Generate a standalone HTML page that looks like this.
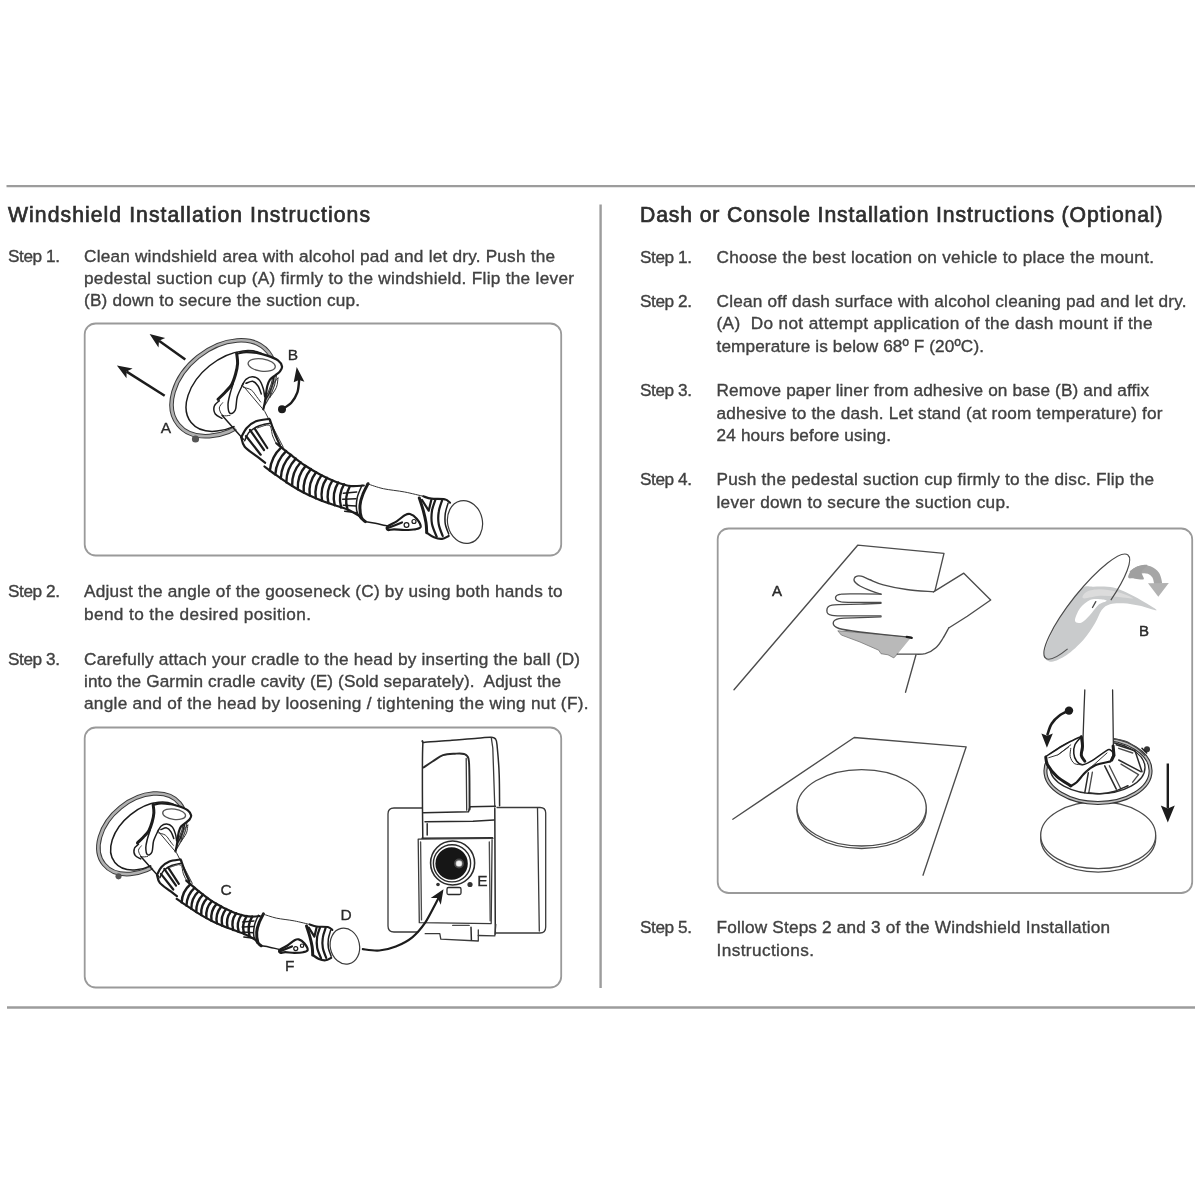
<!DOCTYPE html>
<html lang="en">
<head>
<meta charset="utf-8">
<title>Installation Instructions</title>
<style>
html,body{margin:0;padding:0;background:#fff;}
body{width:1200px;height:1200px;overflow:hidden;position:relative;font-family:"Liberation Sans",Arial,sans-serif;}
svg{position:absolute;left:0;top:0;filter:blur(0.45px);}
text{font-family:"Liberation Sans",Arial,sans-serif;fill:#414141;stroke:#414141;stroke-width:0.36px;white-space:pre;}
text.t{fill:#2e2e2e;stroke:#2e2e2e;stroke-width:0.7px;}
text.lb{fill:#2a2a2a;stroke:#2a2a2a;stroke-width:0.3px;}
text.lbb{font-size:15px;fill:#2a2a2a;stroke:#2a2a2a;stroke-width:0.45px;}
.rule{fill:none;stroke:#9c9c9c;stroke-width:2.4;}
.box{fill:none;stroke:#9a9a9a;stroke-width:1.8;}
.k{fill:none;stroke:#1c1c1c;stroke-width:1.5;stroke-linecap:round;stroke-linejoin:round;}
.k2{fill:none;stroke:#1c1c1c;stroke-width:2.2;stroke-linecap:round;stroke-linejoin:round;}
.kt{fill:none;stroke:#333;stroke-width:1;stroke-linecap:round;stroke-linejoin:round;}
.w{fill:#fff;stroke:#1c1c1c;stroke-width:1.5;stroke-linecap:round;stroke-linejoin:round;}
.wt{fill:#fff;stroke:#333;stroke-width:1;stroke-linecap:round;stroke-linejoin:round;}
.f{fill:#1c1c1c;stroke:none;}
#art2 g path,#art2 g ellipse,#art2 g circle{vector-effect:non-scaling-stroke;}
.k3{fill:none;stroke:#1c1c1c;stroke-width:3;stroke-linecap:round;stroke-linejoin:round;}
.wn{fill:#fff;stroke:none;}
.g1{fill:none;stroke:#4c4c4c;stroke-width:1.35;stroke-linecap:round;stroke-linejoin:round;}
.g1d{fill:none;stroke:#3a3a3a;stroke-width:1.3;stroke-linecap:round;stroke-linejoin:round;}
.g2{fill:none;stroke:#2a2a2a;stroke-width:1.5;stroke-linecap:round;stroke-linejoin:round;}
</style>
</head>
<body>
<svg width="1200" height="1200" viewBox="0 0 1200 1200">
<g id="frame">
<path class="rule" d="M6.5 186.1H1195"/>
<path class="rule" d="M7 1007.5H1195"/>
<path class="rule" d="M600.6 204.5V988"/>
<rect class="box" x="84.7" y="323.5" width="476.5" height="232" rx="11" ry="11"/>
<rect class="box" x="84.7" y="727.5" width="476.5" height="260" rx="11" ry="11"/>
<rect class="box" x="717.7" y="528.5" width="474.5" height="364.5" rx="11" ry="11"/>
</g>
<g id="art1">
<path d="M185.3 359.4L159 340.7" fill="none" stroke="#1c1c1c" stroke-width="2.5"/>
<path d="M149.6 334L165.2 338L159 340.7L158.5 347.4Z" fill="#1c1c1c"/>
<path d="M164.7 395.7L126.6 371.6" fill="none" stroke="#1c1c1c" stroke-width="2.5"/>
<path d="M116.9 365.4L132.6 368.6L126.6 371.6L126.5 378.3Z" fill="#1c1c1c"/>
<text class="lb" x="160.8" y="432.8" font-size="15.5">A</text>
<text class="lb" x="287.8" y="359.8" font-size="15.5">B</text>
<ellipse cx="223.2" cy="388.3" rx="57.8" ry="40.3" transform="rotate(-39 223.2 388.3)" fill="#fff" stroke="#3a3a3a" stroke-width="4.6"/>
<ellipse cx="223.2" cy="388.3" rx="57.8" ry="40.3" transform="rotate(-39 223.2 388.3)" fill="none" stroke="#b0b0b0" stroke-width="2.6"/>
<ellipse cx="230" cy="391" rx="50" ry="32.5" transform="rotate(-39 230 391)" fill="none" stroke="#1c1c1c" stroke-width="1.5"/>
<circle cx="195.5" cy="439" r="3.6" fill="#555"/>
<path class="wn" d="M220 402.7L250.7 394.7L269.3 418.7L241.3 437.3Z"/>
<path class="wn" d="M236.7 353.3C238.1 351.5 242.7 352.2 246 352.1C249.3 352.1 253.1 352.4 256.7 352.9C260.2 353.5 263.8 354.4 267.3 355.6C270.9 356.8 275.6 358.6 278 360.4C280.4 362.2 281.7 364.7 282 366.5C282.3 368.4 281.1 369.9 280 371.3C278.9 372.8 277 374 275.3 375.3C273.7 376.7 271.3 377.6 270 379.3C268.7 381.1 268 383.6 267.3 386C266.7 388.4 266.4 391.3 266 394C265.6 396.7 265.1 399.3 264.7 402C264.2 404.7 266.9 407.8 263.3 410C259.8 412.2 248.9 414.4 243.3 415.3C237.8 416.2 234 416.2 230 415.3C226 414.4 221.3 412.7 219.3 410C217.3 407.3 217.1 402.2 218 399.3C218.9 396.4 222.4 395.1 224.7 392.7C226.9 390.2 229.6 387.8 231.3 384.7C233.1 381.6 234.3 377.6 235.3 374C236.3 370.4 237.1 366.8 237.3 363.3C237.6 359.9 235.2 355.2 236.7 353.3Z"/>
<path class="k3" d="M236.7 353.3C236.8 355 237.8 359.9 237.6 363.3C237.4 366.8 236.6 370.4 235.6 374C234.6 377.6 233.4 381.6 231.6 384.7C229.8 387.8 226.9 390.2 224.7 392.7C222.4 395.1 219.1 398.2 218 399.3"/>
<path class="k2" d="M236.7 353.7C238.2 353.5 242.7 352.3 246 352.1C249.3 352 253.1 352.4 256.7 352.9C260.2 353.5 263.8 354.4 267.3 355.6C270.9 356.8 275.6 358.6 278 360.4C280.4 362.2 281.7 364.7 282 366.5C282.3 368.4 281.1 369.9 280 371.3C278.9 372.8 277 374 275.3 375.3C273.7 376.7 271.3 377.8 270 379.6C268.7 381.4 268 383.6 267.3 386C266.7 388.4 266.4 391.3 266 394C265.6 396.7 265.4 399.4 264.9 402C264.5 404.6 263.6 408.1 263.3 409.3"/>
<ellipse class="kt" cx="261.7" cy="365" rx="13.7" ry="6.2" transform="rotate(8 261.7 365)" style="stroke:#555;stroke-width:1.3"/>
<path class="kt" d="M278 378C277.7 379.6 277.7 384.1 276.4 387.3C275.1 390.6 271.1 395.7 270 397.3"/>
<path class="kt" d="M278 378C277 379.3 273.3 382.8 272 386C270.7 389.2 270.3 395.4 270 397.3"/>
<path class="k" d="M233.3 383.3C232.8 385.1 230.9 390.4 230 394C229.1 397.6 228 401.4 228 404.7C228 407.9 228.8 412.4 230 413.3C231.2 414.2 234.1 412.8 235.3 410C236.6 407.2 236 401.1 237.3 396.7C238.7 392.2 242.3 385.6 243.3 383.3"/>
<path class="k" d="M242 386C242.7 384.9 244.2 380.9 246 379.3C247.8 377.8 250.4 376.6 252.7 376.7C254.9 376.8 257.6 378 259.3 380C261.1 382 262.4 385.9 263.3 388.7C264.2 391.4 264.4 395.3 264.7 396.7"/>
<path class="k" d="M246 383.3C247.1 383 250.7 380.9 252.7 381.3C254.7 381.8 256.6 383.9 258 386C259.4 388.1 260.8 392.7 261.3 394"/>
<path class="kt" d="M243.3 387.3C244.7 387.8 249.1 388.4 251.3 390C253.6 391.6 255.1 394.7 256.7 396.7C258.2 398.7 260 401.1 260.7 402"/>
<path class="k" d="M219.3 400.7C218.5 401.6 214.9 403.8 214.3 406C213.6 408.2 214 412 215.3 414C216.6 416 220.9 417.6 222 418.3"/>
<path class="kt" d="M222.7 402.7C222.1 403.6 219.3 405.9 219.3 408C219.3 410.1 220.9 414.1 222.7 415.3C224.4 416.6 228.8 415.3 230 415.3"/>
<path class="k" d="M222 415.3L243.3 439.3"/>
<path class="kt" d="M243.3 386L264.7 411.3L283.3 447.3"/>
<path class="k2" d="M241.3 437.3C242.2 435.8 244.2 430.7 246.7 428C249.1 425.3 252.2 422.8 256 421.3C259.8 419.8 267.1 419.3 269.3 418.9"/>
<path class="k" d="M244.7 440.7C245.4 439.2 247 434.4 249.3 432C251.7 429.6 255.2 427.4 258.7 426C262.1 424.6 268.1 423.8 270 423.3"/>
<path class="k2" d="M241.3 437.3C241.9 438.9 242 443.4 244.7 446.7C247.3 449.9 253.9 454 257.3 456.7C260.8 459.4 264 461.9 265.3 462.9"/>
<path class="k2" d="M270 420C270.8 422.2 273 429.1 274.7 433.3C276.3 437.6 279.1 443.3 280 445.3"/>
<path class="k2" d="M250 430L264 450"/>
<path class="k2" d="M254.7 428.7L267.3 448"/>
<path class="k2" d="M246 436L260.7 454.7"/>
<path class="kt" d="M257.3 428C259.3 427.6 266.8 424 269.3 425.3C271.9 426.7 271.3 432.6 272.7 436C274 439.4 276.6 444.3 277.3 446"/>
<path class="wn" d="M276.5 443.5L290 454.2L305 465.5L320 474.5L335 481.5L350 486L363.8 485.5L360 516.2L347.5 509.5L332.5 504.5L317.5 499L302.5 492L287.5 483L272.5 472.5L264.5 466.5Z"/>
<path class="k2" d="M276.5 443.5C278.8 445.3 285.2 450.6 290 454.2C294.8 457.9 300 462.1 305 465.5C310 468.9 315 471.8 320 474.5C325 477.2 330 479.6 335 481.5C340 483.4 345.2 485.3 350 486C354.8 486.7 361.5 485.6 363.8 485.5"/>
<path class="k2" d="M264.5 466.5C265.8 467.5 268.7 469.8 272.5 472.5C276.3 475.2 282.5 479.8 287.5 483C292.5 486.2 297.5 489.3 302.5 492C307.5 494.7 312.5 496.9 317.5 499C322.5 501.1 327.5 502.8 332.5 504.5C337.5 506.2 342.9 507.5 347.5 509.5C352.1 511.5 357.9 515.1 360 516.2"/>
<path class="k" style="stroke-width:2.4" d="M281.3 447.3Q271.1 456.7 269.9 470.5"/>
<path class="k" style="stroke-width:2.4" d="M286.1 451.1Q276.2 460.7 275.3 474.5"/>
<path class="k" style="stroke-width:2.4" d="M290.9 454.9Q281.3 464.7 280.8 478.3"/>
<path class="k" style="stroke-width:2.4" d="M295.8 458.6Q286.4 468.5 286.3 482.2"/>
<path class="k" style="stroke-width:2.4" d="M300.7 462.3Q291.7 472.3 292.1 485.7"/>
<path class="k" style="stroke-width:2.4" d="M305.6 465.9Q297 475.9 297.8 489.2"/>
<path class="k" style="stroke-width:2.4" d="M310.9 469Q302.5 479.3 303.7 492.5"/>
<path class="k" style="stroke-width:2.4" d="M316.1 472.2Q308.1 482.5 309.7 495.4"/>
<path class="k" style="stroke-width:2.4" d="M321.5 475.2Q313.8 485.5 315.8 498.2"/>
<path class="k" style="stroke-width:2.4" d="M327 477.8Q319.7 488.2 322.1 500.7"/>
<path class="k" style="stroke-width:2.4" d="M332.5 480.4Q325.6 490.8 328.4 503"/>
<path class="k" style="stroke-width:2.4" d="M338.3 482.5Q331.6 493.1 334.7 505.2"/>
<path class="k" style="stroke-width:2.4" d="M344.1 484.2Q337.7 495.2 341.1 507.4"/>
<path class="k" style="stroke-width:2.4" d="M350 486Q343.8 497.2 347.5 509.5"/>
<path class="k" d="M343.3 493.3L356.7 492"/>
<path class="k" d="M342.7 499.3L356 498.7"/>
<path class="k" d="M343.3 505.3L356 506"/>
<path class="k" d="M344.7 511.3L356.7 512.7"/>
<path class="k3" d="M368 483.7C367.1 485.6 364 491.1 362.7 494.7C361.3 498.3 360.2 501.6 360 505.3C359.8 509.1 360.4 514.6 361.3 517.3C362.2 520 364.7 520.9 365.3 521.6"/>
<path class="k" d="M362 485.3C361.2 487.3 358.2 493.1 357.3 497.3C356.4 501.6 356.1 507.1 356.7 510.7C357.2 514.2 360 517.3 360.7 518.7"/>
<path class="kt" d="M368 484C370.6 484.8 377.2 487.3 383.3 488.7C389.4 490 398 490.7 404.7 492C411.3 493.3 420.2 495.6 423.3 496.3"/>
<path class="k" d="M365.3 521.6C367 521.9 371.7 522.6 375.3 523.3C379 524.1 385.3 525.6 387.3 526"/>
<path class="k2" d="M387.3 526.7C388.8 525.2 393.8 523.2 396.7 521.3C399.6 519.4 402.4 516.6 404.7 515.3C406.9 514.1 408 513.4 410 514C412 514.6 414.9 516.6 416.7 518.7C418.4 520.8 420.9 524.9 420.7 526.7C420.4 528.4 418 528.8 415.3 529.3C412.7 529.9 408.2 530 404.7 530C401.1 530 396.8 529.3 394 529.3C391.2 529.3 389.1 530.4 388 530C386.9 529.6 385.9 528.1 387.3 526.7Z"/>
<circle cx="406.5" cy="525" r="2.4" fill="#fff" stroke="#1c1c1c" stroke-width="1.2"/>
<circle cx="414" cy="521.5" r="2" fill="#fff" stroke="#1c1c1c" stroke-width="1.2"/>
<path class="k2" d="M387.3 528.3L402 522.4"/>
<path class="k3" d="M419.3 498C420 500.1 422.2 506.6 423.3 510.7C424.4 514.8 425.4 519 426 522.7C426.6 526.3 426.6 531 426.7 532.7"/>
<path class="k2" d="M423.3 496.3C424.7 496.7 427.8 498.2 431.3 498.7C434.9 499.2 441.6 498.7 444.7 499.3C447.8 500 449.1 502.1 450 502.7"/>
<path class="k2" d="M426.7 532.7C427.9 533.4 431.4 536.3 434 537.3C436.6 538.4 439.6 539.2 442 538.9C444.4 538.7 447.6 536.5 448.7 536"/>
<path class="k2" d="M435.3 500C434.8 501.8 432.6 506.7 432 510.7C431.4 514.7 431.2 519.7 432 524C432.8 528.3 435.9 534.6 436.7 536.7"/>
<path class="k2" d="M442 500.7C441.4 502.6 439.2 508.1 438.7 512C438.1 515.9 438 520 438.7 524C439.3 528 442 534 442.7 536"/>
<path class="k" d="M448 503.3C447.6 505 445.8 509.9 445.3 513.3C444.9 516.8 444.8 520.6 445.3 524C445.9 527.4 448.1 532.3 448.7 534"/>
<path class="k2" d="M422 500L428.7 510.7L431.3 500"/>
<ellipse cx="465" cy="522" rx="17.4" ry="21.6" transform="rotate(-12 465 522)" fill="#fff" stroke="#3a3a3a" stroke-width="1.2"/>
<circle cx="282" cy="409.3" r="4" fill="#1c1c1c"/>
<path class="k2" d="M282 409.3C283.6 408.2 288.8 405.4 291.3 402.7C293.9 399.9 296 396.3 297.3 392.7C298.6 389 298.8 382.7 299.1 380.7" style="stroke-width:2.4"/>
<path class="f" d="M296.7 367.1L293.7 382.3L299.1 379.9L304.4 381.7Z"/>
</g>
<g id="art2">
<g transform="translate(-45.7 507.6) scale(0.84)">
<ellipse cx="223.2" cy="388.3" rx="57.8" ry="40.3" transform="rotate(-39 223.2 388.3)" fill="#fff" stroke="#3a3a3a" stroke-width="4.6"/>
<ellipse cx="223.2" cy="388.3" rx="57.8" ry="40.3" transform="rotate(-39 223.2 388.3)" fill="none" stroke="#b0b0b0" stroke-width="2.6"/>
<ellipse cx="230" cy="391" rx="50" ry="32.5" transform="rotate(-39 230 391)" fill="none" stroke="#1c1c1c" stroke-width="1.5"/>
<circle cx="195.5" cy="439" r="3.6" fill="#555"/>
<path class="wn" d="M220 402.7L250.7 394.7L269.3 418.7L241.3 437.3Z"/>
<path class="wn" d="M236.7 353.3C238.1 351.5 242.7 352.2 246 352.1C249.3 352.1 253.1 352.4 256.7 352.9C260.2 353.5 263.8 354.4 267.3 355.6C270.9 356.8 275.6 358.6 278 360.4C280.4 362.2 281.7 364.7 282 366.5C282.3 368.4 281.1 369.9 280 371.3C278.9 372.8 277 374 275.3 375.3C273.7 376.7 271.3 377.6 270 379.3C268.7 381.1 268 383.6 267.3 386C266.7 388.4 266.4 391.3 266 394C265.6 396.7 265.1 399.3 264.7 402C264.2 404.7 266.9 407.8 263.3 410C259.8 412.2 248.9 414.4 243.3 415.3C237.8 416.2 234 416.2 230 415.3C226 414.4 221.3 412.7 219.3 410C217.3 407.3 217.1 402.2 218 399.3C218.9 396.4 222.4 395.1 224.7 392.7C226.9 390.2 229.6 387.8 231.3 384.7C233.1 381.6 234.3 377.6 235.3 374C236.3 370.4 237.1 366.8 237.3 363.3C237.6 359.9 235.2 355.2 236.7 353.3Z"/>
<path class="k3" d="M236.7 353.3C236.8 355 237.8 359.9 237.6 363.3C237.4 366.8 236.6 370.4 235.6 374C234.6 377.6 233.4 381.6 231.6 384.7C229.8 387.8 226.9 390.2 224.7 392.7C222.4 395.1 219.1 398.2 218 399.3"/>
<path class="k2" d="M236.7 353.7C238.2 353.5 242.7 352.3 246 352.1C249.3 352 253.1 352.4 256.7 352.9C260.2 353.5 263.8 354.4 267.3 355.6C270.9 356.8 275.6 358.6 278 360.4C280.4 362.2 281.7 364.7 282 366.5C282.3 368.4 281.1 369.9 280 371.3C278.9 372.8 277 374 275.3 375.3C273.7 376.7 271.3 377.8 270 379.6C268.7 381.4 268 383.6 267.3 386C266.7 388.4 266.4 391.3 266 394C265.6 396.7 265.4 399.4 264.9 402C264.5 404.6 263.6 408.1 263.3 409.3"/>
<ellipse class="kt" cx="261.7" cy="365" rx="13.7" ry="6.2" transform="rotate(8 261.7 365)" style="stroke:#555;stroke-width:1.3"/>
<path class="kt" d="M278 378C277.7 379.6 277.7 384.1 276.4 387.3C275.1 390.6 271.1 395.7 270 397.3"/>
<path class="kt" d="M278 378C277 379.3 273.3 382.8 272 386C270.7 389.2 270.3 395.4 270 397.3"/>
<path class="k" d="M233.3 383.3C232.8 385.1 230.9 390.4 230 394C229.1 397.6 228 401.4 228 404.7C228 407.9 228.8 412.4 230 413.3C231.2 414.2 234.1 412.8 235.3 410C236.6 407.2 236 401.1 237.3 396.7C238.7 392.2 242.3 385.6 243.3 383.3"/>
<path class="k" d="M242 386C242.7 384.9 244.2 380.9 246 379.3C247.8 377.8 250.4 376.6 252.7 376.7C254.9 376.8 257.6 378 259.3 380C261.1 382 262.4 385.9 263.3 388.7C264.2 391.4 264.4 395.3 264.7 396.7"/>
<path class="k" d="M246 383.3C247.1 383 250.7 380.9 252.7 381.3C254.7 381.8 256.6 383.9 258 386C259.4 388.1 260.8 392.7 261.3 394"/>
<path class="kt" d="M243.3 387.3C244.7 387.8 249.1 388.4 251.3 390C253.6 391.6 255.1 394.7 256.7 396.7C258.2 398.7 260 401.1 260.7 402"/>
<path class="k" d="M219.3 400.7C218.5 401.6 214.9 403.8 214.3 406C213.6 408.2 214 412 215.3 414C216.6 416 220.9 417.6 222 418.3"/>
<path class="kt" d="M222.7 402.7C222.1 403.6 219.3 405.9 219.3 408C219.3 410.1 220.9 414.1 222.7 415.3C224.4 416.6 228.8 415.3 230 415.3"/>
<path class="k" d="M222 415.3L243.3 439.3"/>
<path class="kt" d="M243.3 386L264.7 411.3L283.3 447.3"/>
<path class="k2" d="M241.3 437.3C242.2 435.8 244.2 430.7 246.7 428C249.1 425.3 252.2 422.8 256 421.3C259.8 419.8 267.1 419.3 269.3 418.9"/>
<path class="k" d="M244.7 440.7C245.4 439.2 247 434.4 249.3 432C251.7 429.6 255.2 427.4 258.7 426C262.1 424.6 268.1 423.8 270 423.3"/>
<path class="k2" d="M241.3 437.3C241.9 438.9 242 443.4 244.7 446.7C247.3 449.9 253.9 454 257.3 456.7C260.8 459.4 264 461.9 265.3 462.9"/>
<path class="k2" d="M270 420C270.8 422.2 273 429.1 274.7 433.3C276.3 437.6 279.1 443.3 280 445.3"/>
<path class="k2" d="M250 430L264 450"/>
<path class="k2" d="M254.7 428.7L267.3 448"/>
<path class="k2" d="M246 436L260.7 454.7"/>
<path class="kt" d="M257.3 428C259.3 427.6 266.8 424 269.3 425.3C271.9 426.7 271.3 432.6 272.7 436C274 439.4 276.6 444.3 277.3 446"/>
<path class="wn" d="M276.2 444.1L283.1 450.1L290.1 456L297.3 461.6L304.6 467.1L312.4 471.9L320.3 476.4L328.5 480.2L336.9 483.6L345.7 486L354.6 486.9L363.7 486.3L360.1 515.5L351.5 510.5L342.5 506.5L333.2 503.2L324 499.7L315 496L306.1 491.8L297.6 487.2L289.1 482.2L281 476.8L272.9 471.4L264.8 465.9Z"/>
<path class="k2" d="M276.2 444.1C277.3 445.1 280.8 448.2 283.1 450.1C285.4 452.1 287.7 454.1 290.1 456C292.5 457.9 294.9 459.8 297.3 461.6C299.7 463.5 302.1 465.4 304.6 467.1C307.1 468.8 309.8 470.3 312.4 471.9C315 473.4 317.6 475 320.3 476.4C322.9 477.8 325.8 479 328.5 480.2C331.3 481.4 334.1 482.6 336.9 483.6C339.8 484.5 342.7 485.4 345.7 486C348.6 486.6 351.6 486.9 354.6 486.9C357.6 487 362.1 486.4 363.7 486.3"/>
<path class="k2" d="M264.8 465.9C266.1 466.8 270.2 469.6 272.9 471.4C275.6 473.2 278.3 475 281 476.8C283.7 478.6 286.4 480.4 289.1 482.2C291.9 483.9 294.7 485.5 297.6 487.2C300.4 488.8 303.2 490.4 306.1 491.8C309 493.3 312 494.7 315 496C318 497.4 321 498.5 324 499.7C327.1 500.9 330.1 502.1 333.2 503.2C336.3 504.4 339.4 505.3 342.5 506.5C345.5 507.7 348.5 509 351.5 510.5C354.4 511.9 358.7 514.6 360.1 515.5"/>
<path class="k" style="stroke-width:2.4" d="M281.1 448.4Q271.3 456.9 270.6 469.9"/>
<path class="k" style="stroke-width:2.4" d="M286 452.6Q276.7 461.1 276.4 473.7"/>
<path class="k" style="stroke-width:2.4" d="M291 456.7Q282 465.2 282.2 477.6"/>
<path class="k" style="stroke-width:2.4" d="M296.1 460.7Q287.4 469.3 288.1 481.5"/>
<path class="k" style="stroke-width:2.4" d="M301.3 464.7Q293 473.2 294 485.1"/>
<path class="k" style="stroke-width:2.4" d="M306.6 468.4Q298.6 476.9 300.1 488.5"/>
<path class="k" style="stroke-width:2.4" d="M312.2 471.7Q304.4 480.4 306.2 491.9"/>
<path class="k" style="stroke-width:2.4" d="M317.8 475Q310.4 483.7 312.6 494.9"/>
<path class="k" style="stroke-width:2.4" d="M323.6 477.9Q316.4 486.7 319 497.7"/>
<path class="k" style="stroke-width:2.4" d="M329.5 480.6Q322.6 489.4 325.4 500.3"/>
<path class="k" style="stroke-width:2.4" d="M335.6 483Q328.9 492 332 502.8"/>
<path class="k" style="stroke-width:2.4" d="M341.8 484.9Q335.2 494.2 338.6 505.1"/>
<path class="k" style="stroke-width:2.4" d="M348.1 486.3Q341.6 496.3 345.1 507.6"/>
<path class="k" style="stroke-width:2.4" d="M354.6 486.9Q348.1 498 351.5 510.5"/>
<path class="k" d="M343.3 493.3L356.7 492"/>
<path class="k" d="M342.7 499.3L356 498.7"/>
<path class="k" d="M343.3 505.3L356 506"/>
<path class="k" d="M344.7 511.3L356.7 512.7"/>
<path class="k3" d="M368 483.7C367.1 485.6 364 491.1 362.7 494.7C361.3 498.3 360.2 501.6 360 505.3C359.8 509.1 360.4 514.6 361.3 517.3C362.2 520 364.7 520.9 365.3 521.6"/>
<path class="k" d="M362 485.3C361.2 487.3 358.2 493.1 357.3 497.3C356.4 501.6 356.1 507.1 356.7 510.7C357.2 514.2 360 517.3 360.7 518.7"/>
<path class="kt" d="M368 484C370.6 484.8 377.2 487.3 383.3 488.7C389.4 490 398 490.7 404.7 492C411.3 493.3 420.2 495.6 423.3 496.3"/>
<path class="k" d="M365.3 521.6C367 521.9 371.7 522.6 375.3 523.3C379 524.1 385.3 525.6 387.3 526"/>
<path class="k2" d="M387.3 526.7C388.8 525.2 393.8 523.2 396.7 521.3C399.6 519.4 402.4 516.6 404.7 515.3C406.9 514.1 408 513.4 410 514C412 514.6 414.9 516.6 416.7 518.7C418.4 520.8 420.9 524.9 420.7 526.7C420.4 528.4 418 528.8 415.3 529.3C412.7 529.9 408.2 530 404.7 530C401.1 530 396.8 529.3 394 529.3C391.2 529.3 389.1 530.4 388 530C386.9 529.6 385.9 528.1 387.3 526.7Z"/>
<circle cx="406.5" cy="525" r="2.4" fill="#fff" stroke="#1c1c1c" stroke-width="1.2"/>
<circle cx="414" cy="521.5" r="2" fill="#fff" stroke="#1c1c1c" stroke-width="1.2"/>
<path class="k2" d="M387.3 528.3L402 522.4"/>
<path class="k3" d="M419.3 498C420 500.1 422.2 506.6 423.3 510.7C424.4 514.8 425.4 519 426 522.7C426.6 526.3 426.6 531 426.7 532.7"/>
<path class="k2" d="M423.3 496.3C424.7 496.7 427.8 498.2 431.3 498.7C434.9 499.2 441.6 498.7 444.7 499.3C447.8 500 449.1 502.1 450 502.7"/>
<path class="k2" d="M426.7 532.7C427.9 533.4 431.4 536.3 434 537.3C436.6 538.4 439.6 539.2 442 538.9C444.4 538.7 447.6 536.5 448.7 536"/>
<path class="k2" d="M435.3 500C434.8 501.8 432.6 506.7 432 510.7C431.4 514.7 431.2 519.7 432 524C432.8 528.3 435.9 534.6 436.7 536.7"/>
<path class="k2" d="M442 500.7C441.4 502.6 439.2 508.1 438.7 512C438.1 515.9 438 520 438.7 524C439.3 528 442 534 442.7 536"/>
<path class="k" d="M448 503.3C447.6 505 445.8 509.9 445.3 513.3C444.9 516.8 444.8 520.6 445.3 524C445.9 527.4 448.1 532.3 448.7 534"/>
<path class="k2" d="M422 500L428.7 510.7L431.3 500"/>
<ellipse cx="465" cy="522" rx="17.4" ry="21.6" transform="rotate(-12 465 522)" fill="#fff" stroke="#3a3a3a" stroke-width="1.2"/>
</g>
<text class="lb" x="220.5" y="895" font-size="15.5">C</text>
<text class="lb" x="340.5" y="920" font-size="15.5">D</text>
<text class="lb" x="285" y="970.8" font-size="15.5">F</text>
<path class="g1d" d="M422 808H394Q388 808 388 814V926Q388 932 394 932H418"/>
<path class="g1d" d="M497 807.5H540Q545.7 807.5 545.7 813V927Q545.7 933 540 933H496"/>
<path class="g1d" d="M537.5 808L539.3 931"/>
<path class="g2" d="M494.8 808.5L495.3 934"/>
<path class="g2" d="M422.8 838C422.7 830 422.4 805.5 422.4 790C422.4 774.5 422.3 753 422.8 745C423.2 737 420.1 743.1 425 742.3C429.9 741.5 443.2 740.9 452 740.2C460.8 739.5 471 738.8 477.5 738.2C484 737.8 487.9 737 491 737.2C494.1 737.4 494.8 737.5 495.8 739.3C496.9 741.1 496.7 742 497.3 748C497.9 754 498.9 765.4 499.2 775C499.6 784.6 499.5 800.6 499.6 805.8"/>
<path class="g1d" d="M491.3 737.8L492.8 748L494.8 807.2"/>
<path class="g2" style="stroke-width:1.9" d="M423.5 767.5C425 766.5 429.2 763.5 432.5 761.5C435.8 759.5 439.2 756.5 443 755.2C446.8 753.9 451.5 753.9 455 753.7C458.5 753.5 461.8 753.2 464 754C466.2 754.8 467.6 755 468.5 758.5C469.4 762 469.2 766.5 469.4 775C469.6 783.5 469.5 803.8 469.6 809.5"/>
<path class="g1d" d="M466.2 758.5L466.7 810.2"/>
<path class="g2" d="M423.5 812.8L468.5 811.8L470 806.8L495.5 806.2"/>
<path class="g2" d="M425 821.8L473 821.2L494 820"/>
<path class="g2" d="M427.2 823.8L427.2 835"/>
<path class="g2" d="M422 838.3L492.5 837.7"/>
<path class="g1d" d="M493 838.3L418.2 839.2L419.3 922.7L491.2 923.6L492.1 838.3"/>
<path class="g1" d="M420.6 842L421.5 919.9"/>
<path class="g1" d="M489.3 842L490.2 920.8"/>
<path class="g1d" d="M425.2 933.7L439.8 933.7L440.8 939.2L478.3 941L478.3 930"/>
<path class="g2" d="M471 927.2L471.4 940.1"/>
<path class="g1d" d="M478.3 935.5L494.8 935.9L495.8 924.5"/>
<path class="g1" d="M452.7 925.4L469.2 925.4"/>
<circle cx="452.6" cy="863" r="22" fill="#fff" stroke="#2a2a2a" stroke-width="1.6"/>
<circle cx="452" cy="863.3" r="18.6" fill="#fff" stroke="#2a2a2a" stroke-width="1.4"/>
<circle cx="451.6" cy="863.5" r="16.2" fill="#161616"/>
<circle cx="459" cy="863.5" r="3.3" fill="#e8e8e8"/>
<circle cx="459" cy="863.5" r="5" fill="#888" opacity="0.45"/>
<circle cx="459" cy="863.5" r="2.6" fill="#f4f4f4"/>
<circle cx="438" cy="884.5" r="1.8" fill="#333"/>
<circle cx="470" cy="884.5" r="2.6" fill="#333"/>
<rect x="447" y="887.5" width="14" height="7" rx="1.5" fill="#fff" stroke="#2a2a2a" stroke-width="1.3"/>
<text class="lb" x="477.3" y="886.3" font-size="15.5">E</text>
<path class="k2" d="M362.8 949.2C365.6 949.5 373.8 951 379.3 950.5C384.8 950.1 390.3 948.7 395.8 946.5C401.3 944.3 407.4 941.3 412.3 937.3C417.2 933.4 421.2 928.5 425.2 922.7C429.1 916.9 433.7 907.1 436.2 902.5C438.6 897.9 439.2 896.4 439.8 895.2"/>
<path class="f" d="M443.5 889.3L430.7 897.9L437.6 897.9L440.8 904.7Z"/>
</g>
<g id="art3">
<path class="g1" d="M734 689.8L857.7 545.2L944 553.3L934.7 591.8"/>
<path class="g1" d="M916 654.8L905.5 692.2"/>
<path d="M837.8 630.8L860 632.7L912.5 637.3L893.8 657.9L888 654.8L881 653.7L878.7 650.2L860 642L841.3 635Z" fill="#b9b9b9" stroke="#777" stroke-width="0.8"/>
<path d="M855.8 576.7L883.3 584.8L933.5 591.8L963.8 573.2L990.7 600L948.7 628L937 646.7L925.3 653.7L897.3 654.1L911.3 637.3L839 628.5L829.7 616.3L827.3 609.3L835.5 597.7L860 593Z" fill="#fff" stroke="none"/>
<path class="g1" d="M881 594.2C879.4 593.7 875.2 592.5 871.7 591.1C868.2 589.8 862.9 587.7 860 586C857.1 584.3 854.9 582.4 854.2 580.9C853.5 579.3 854.6 577.4 855.8 576.7C857 575.9 858.9 575.7 861.2 576.2C863.4 576.7 865.6 578 869.3 579.5C873 580.9 877.1 583.2 883.3 584.8C889.6 586.5 898.3 588.3 906.7 589.5C915 590.7 929 591.4 933.5 591.8"/>
<path class="g1" d="M933.5 591.8L963.8 573.2L990.7 600L967.3 616.3L948.7 628"/>
<path class="g1" d="M948.7 628C947.7 629.8 945 635.2 942.8 638.5C940.7 641.8 938.8 645.3 935.8 647.8C932.9 650.4 929.4 652.6 925.3 653.7C921.2 654.7 916 654.1 911.3 654.1C906.7 654.2 899.7 654.1 897.3 654.1"/>
<path class="g1" d="M881 594.2C877.5 594.1 866.6 593.9 860 593.9C853.4 593.9 845.4 593.5 841.3 594.2C837.2 594.8 835.5 596.4 835.5 597.7C835.5 598.9 837.2 601.1 841.3 601.9C845.4 602.6 853.4 602.3 860 602.3C866.6 602.4 877.5 602.3 881 602.3"/>
<path class="g1" d="M881 603.3C877.5 603.4 868.2 603.9 860 604.2C851.8 604.5 837.5 604.1 832 605.1C826.5 606.2 826.9 608.8 826.9 610.5C826.9 612.2 826.5 614.5 832 615.4C837.5 616.3 851.8 615.8 860 615.9C868.2 615.9 877.5 615.9 881 615.9"/>
<path class="g1" d="M881 616.8C877.5 617 867 617.4 860 617.7C853 618 843.5 617.7 839 618.7C834.5 619.6 833.2 621.7 833.2 623.3C833.2 625 834.5 627 839 628.5C843.5 629.9 847.9 630.5 860 632C872.1 633.4 902.8 636.4 911.3 637.3"/>
<path class="k2" d="M906.7 636.9L911.8 637.8"/>
<text x="772" y="595.5" font-size="15" class="lbb">A</text>
<g transform="translate(1.8 1.6) rotate(-51.5 1085 605)">
<ellipse cx="1085" cy="605" rx="66" ry="15.5" fill="#fff" stroke="none"/>
</g>
<path d="M1044.2 656.7C1043.2 654.2 1044.3 651.1 1045.8 646.7C1047.4 642.2 1049.9 636.7 1053.3 630C1056.8 623.3 1061.9 613.6 1066.7 606.7C1071.4 599.7 1077.2 591.7 1081.7 588.3C1086.1 585 1088.1 586.8 1093.3 586.7C1098.6 586.5 1107.2 586.2 1113.3 587.5C1119.4 588.8 1124.7 591.7 1130 594.2C1135.3 596.7 1140.6 599.8 1145 602.5C1149.4 605.2 1157.5 609.8 1156.7 610.3C1155.8 610.9 1145.6 607 1140 605.8C1134.4 604.7 1128.3 603.6 1123.3 603.3C1118.3 603.1 1113.6 603.1 1110 604.2C1106.4 605.3 1104.2 606.8 1101.7 610C1099.2 613.2 1098.1 618.3 1095 623.3C1091.9 628.3 1088.1 634.7 1083.3 640C1078.6 645.3 1071.9 651.4 1066.7 655C1061.4 658.6 1055.4 661.4 1051.7 661.7C1047.9 661.9 1045.1 659.2 1044.2 656.7Z" fill="#c9cbcc" stroke="none"/>
<path d="M1075 620.8C1074.7 618.5 1077.5 611.8 1080 608.3C1082.5 604.9 1086.7 601.5 1090 600C1093.3 598.5 1097.2 599 1100 599.2C1102.8 599.3 1106.9 599.9 1106.7 600.8C1106.4 601.8 1101.1 602.6 1098.3 605C1095.6 607.4 1092.8 612.1 1090 615C1087.2 617.9 1084.2 621.5 1081.7 622.5C1079.2 623.5 1075.3 623.2 1075 620.8Z" fill="#fff" stroke="none"/>
<path d="M1086.7 591.7C1089.4 590.1 1095 589.2 1100 589.2C1105 589.2 1111.1 590.1 1116.7 591.7C1122.2 593.2 1133.3 597.5 1133.3 598.3C1133.3 599.2 1122.2 597.1 1116.7 596.7C1111.1 596.2 1105.6 595.6 1100 595.8C1094.4 596.1 1085.6 599 1083.3 598.3C1081.1 597.6 1083.9 593.2 1086.7 591.7Z" fill="#dcdcdc" stroke="none"/>
<g transform="translate(1.8 1.6) rotate(-51.5 1085 605)">
<path d="M1019 605A66 15.5 0 0 1 1151 605" fill="none" stroke="#4a4a4a" stroke-width="1.2"/>
<path d="M1151 605A66 15.5 0 0 1 1105 619.8" fill="none" stroke="#4a4a4a" stroke-width="1.2"/>
<path d="M1019 605A66 15.5 0 0 0 1040 616.3" fill="none" stroke="#555" stroke-width="1.2"/>
</g>
<path class="g1" d="M1095.8 601.7L1092.5 607.5"/>
<path d="M1131.7 574.7C1133.1 573.8 1137.1 570.4 1140 569.7C1142.9 568.9 1146.5 569.1 1149.2 570C1151.8 570.9 1154.3 573 1155.8 575.3C1157.4 577.7 1157.9 582.7 1158.3 584.2" fill="none" stroke="#a6a6a6" stroke-width="8"/>
<path d="M1128.3 577.5C1127.8 576.1 1129.7 571.9 1131.7 570C1133.6 568.1 1137.4 566.6 1140 565.8C1142.6 565.1 1147.2 564.4 1147.5 565.3C1147.8 566.3 1142.3 569.4 1141.7 571.7C1141 574 1144.8 578 1143.7 579.2C1142.6 580.3 1137.6 578.9 1135 578.7C1132.4 578.4 1128.9 578.9 1128.3 577.5Z" fill="#a0a0a0"/>
<path d="M1148 583.3L1168.8 583L1158.3 596.7Z" fill="#b2b2b2"/>
<text x="1139" y="635.6" font-size="15" class="lbb">B</text>
<path class="g1" d="M732.8 819.2L854.2 737.5L966.2 746.8L923 875.2"/>
<ellipse cx="861.6" cy="810.3" rx="64.6" ry="38.2" fill="#fff" stroke="#4c4c4c" stroke-width="1.3"/>
<ellipse cx="861.6" cy="807.8" rx="64.6" ry="38.2" fill="#fff" stroke="#4c4c4c" stroke-width="1.3"/>
<ellipse cx="1098.2" cy="838.6" rx="57.5" ry="33.5" fill="#fff" stroke="#4c4c4c" stroke-width="1.3"/>
<ellipse cx="1098.2" cy="835.2" rx="57.5" ry="33.5" fill="#fff" stroke="#4c4c4c" stroke-width="1.3"/>
<ellipse cx="1098" cy="770.8" rx="52.6" ry="32.2" fill="#fff" stroke="#333" stroke-width="4"/>
<ellipse cx="1098" cy="770.8" rx="52.6" ry="32.2" fill="none" stroke="#bdbdbd" stroke-width="1.8"/>
<ellipse cx="1097.5" cy="767.6" rx="47.5" ry="26.3" fill="none" stroke="#2a2a2a" stroke-width="1.4"/>
<circle cx="1147" cy="749.3" r="3" fill="#333"/>
<path class="k" d="M1142 748.3L1146.7 753"/>
<path class="g2" d="M1088.3 772.8L1084.8 792.7"/>
<path class="g1" d="M1092.4 772.2L1088.9 792.1"/>
<path class="g2" d="M1104.7 765.8L1116.3 789.2"/>
<path class="g1" d="M1109.3 765.8L1121 789.2"/>
<path class="g2" d="M1118.7 760L1140.8 771.7"/>
<path class="g1" d="M1121 764.1L1138.5 774.6"/>
<path class="g1" d="M1138.5 774.6L1132.7 782.2"/>
<path class="g2" d="M1116.3 744.8L1135 750.7L1142 771.7"/>
<path class="g1" d="M1118.7 748.3L1132.7 753"/>
<path class="g2" d="M1088.3 792.7C1090.3 792.9 1095.7 794 1100 793.8C1104.3 793.6 1109.3 792.9 1114 791.5C1118.7 790.1 1125.7 786.6 1128 785.7"/>
<path class="g1" d="M1114 739C1115.9 739.4 1121.8 739.8 1125.7 741.3C1129.6 742.9 1134.1 746 1137.3 748.3C1140.5 750.7 1143.7 754.2 1144.9 755.3"/>
<path d="M1083.9 690L1113.1 690L1113.5 755.3L1100 760L1082.5 755.3Z" fill="#fff" stroke="none"/>
<path class="g1" d="M1084.8 690L1083.9 713.3L1083.1 736.7L1082.7 750.7" style="stroke:#333;stroke-width:1.3"/>
<path class="g1" d="M1112.6 690L1113.1 725L1113.5 754.2" style="stroke:#333;stroke-width:1.3"/>
<path d="M1045.8 756.5L1068.5 742.5L1081.3 736.1L1082.5 755.3L1090.7 761.2L1104.7 751.8L1109.3 749.5L1112.8 753L1110.5 761.2L1095.3 764.7L1086 771.7L1076.7 782.2L1070.8 785.7L1056.8 776.3L1047.5 764.7Z" fill="#fff" stroke="none"/>
<path class="k" d="M1045.8 756.5C1047.6 755.3 1053 751.8 1056.8 749.5C1060.6 747.2 1064.4 744.7 1068.5 742.5C1072.6 740.3 1079.2 737.4 1081.3 736.4"/>
<path class="k3" d="M1045.8 757.1C1046 758.3 1045.7 761.5 1047.5 764.7C1049.3 767.9 1052.9 772.8 1056.8 776.3C1060.7 779.9 1068.5 784.3 1070.8 785.9"/>
<path class="k2" d="M1070.8 785.9C1071.8 785.3 1074.1 784.5 1076.7 782.2C1079.2 779.8 1082.9 774.5 1086 771.7C1089.1 768.8 1091.2 767 1095.3 765.2C1099.4 763.5 1108 762 1110.5 761.4"/>
<path class="k" d="M1110.5 761.4C1110.9 760.1 1113.3 755.6 1113.1 753.6C1112.9 751.6 1110.7 749.8 1109.3 749.5C1107.9 749.2 1107.8 749.9 1104.7 751.8C1101.6 753.8 1094.4 759.3 1090.7 761.4C1087 763.5 1084.8 764.7 1082.5 764.7C1080.2 764.6 1078.1 763 1076.7 761.2C1075.2 759.3 1074 756.3 1073.8 753.6C1073.5 750.9 1073.7 747.7 1074.9 744.8C1076.2 742 1080.3 738 1081.3 736.7"/>
<path class="k3" d="M1081.3 736.7C1081.5 738.2 1082.5 742.9 1082.5 746C1082.5 749.1 1080.9 752.8 1081.3 755.3C1081.7 757.9 1084.2 760.2 1084.8 761.2"/>
<path class="kt" d="M1048.7 757.7L1058 754.8L1070.8 744.8"/>
<path class="kt" d="M1058 754.8L1068.5 747.2"/>
<path class="kt" d="M1070.8 748.3C1070.7 749.7 1069.7 754 1070.2 756.5C1070.8 759 1072.3 762.1 1074.3 763.5C1076.4 764.9 1081.1 764.5 1082.5 764.7"/>
<path class="kt" d="M1086 771.7L1107 753"/>
<path class="k3" d="M1111.7 760L1114 755.3L1113.1 746"/>
<circle cx="1069" cy="710.6" r="4.2" fill="#1c1c1c"/>
<path class="k2" d="M1069.1 710.4C1067.4 711.3 1062.1 713.4 1059.2 715.7C1056.2 717.9 1053.5 720.7 1051.6 723.8C1049.6 726.9 1048.2 732.6 1047.5 734.3" style="stroke-width:2.6"/>
<path class="f" d="M1046.9 747.8L1041.4 733.4L1047.2 735.7L1052.8 733.4Z"/>
<path d="M1167.8 763.5L1167.8 808.5" fill="none" stroke="#1c1c1c" stroke-width="2.4"/>
<path d="M1167.8 822.5L1160.8 805.5L1167.8 808.5L1174.8 805.5Z" fill="#1c1c1c"/>
</g>
<g id="copy">
<text class="t" x="8" y="221.7" font-size="21.2" textLength="362" lengthAdjust="spacing" xml:space="preserve">Windshield Installation Instructions</text>
<text class="t" x="640" y="221.7" font-size="21.2" textLength="522.5" lengthAdjust="spacing" xml:space="preserve">Dash or Console Installation Instructions (Optional)</text>
<text x="8" y="261.8" font-size="17.2" textLength="52" lengthAdjust="spacing" xml:space="preserve">Step 1.</text>
<text x="84" y="261.8" font-size="17.2" textLength="471" lengthAdjust="spacing" xml:space="preserve">Clean windshield area with alcohol pad and let dry. Push the</text>
<text x="84" y="283.8" font-size="17.2" textLength="490" lengthAdjust="spacing" xml:space="preserve">pedestal suction cup (A) firmly to the windshield. Flip the lever</text>
<text x="84" y="305.8" font-size="17.2" textLength="276" lengthAdjust="spacing" xml:space="preserve">(B) down to secure the suction cup.</text>
<text x="8" y="597.3" font-size="17.2" textLength="52" lengthAdjust="spacing" xml:space="preserve">Step 2.</text>
<text x="84" y="597.3" font-size="17.2" textLength="478.5" lengthAdjust="spacing" xml:space="preserve">Adjust the angle of the gooseneck (C) by using both hands to</text>
<text x="84" y="619.9" font-size="17.2" textLength="227" lengthAdjust="spacing" xml:space="preserve">bend to the desired position.</text>
<text x="8" y="664.7" font-size="17.2" textLength="52" lengthAdjust="spacing" xml:space="preserve">Step 3.</text>
<text x="84" y="664.7" font-size="17.2" textLength="496" lengthAdjust="spacing" xml:space="preserve">Carefully attach your cradle to the head by inserting the ball (D)</text>
<text x="84" y="687" font-size="17.2" textLength="477" lengthAdjust="spacing" xml:space="preserve">into the Garmin cradle cavity (E) (Sold separately).  Adjust the</text>
<text x="84" y="709.3" font-size="17.2" textLength="504.5" lengthAdjust="spacing" xml:space="preserve">angle and of the head by loosening / tightening the wing nut (F).</text>
<text x="640" y="262.6" font-size="17.2" textLength="52" lengthAdjust="spacing" xml:space="preserve">Step 1.</text>
<text x="716.5" y="262.6" font-size="17.2" textLength="437.5" lengthAdjust="spacing" xml:space="preserve">Choose the best location on vehicle to place the mount.</text>
<text x="640" y="306.7" font-size="17.2" textLength="52" lengthAdjust="spacing" xml:space="preserve">Step 2.</text>
<text x="716.5" y="306.7" font-size="17.2" textLength="470" lengthAdjust="spacing" xml:space="preserve">Clean off dash surface with alcohol cleaning pad and let dry.</text>
<text x="716.5" y="329.2" font-size="17.2" textLength="436" lengthAdjust="spacing" xml:space="preserve">(A)  Do not attempt application of the dash mount if the</text>
<text x="716.5" y="351.8" font-size="17.2" textLength="267.5" lengthAdjust="spacing" xml:space="preserve">temperature is below 68º F (20ºC).</text>
<text x="640" y="396" font-size="17.2" textLength="52" lengthAdjust="spacing" xml:space="preserve">Step 3.</text>
<text x="716.5" y="396" font-size="17.2" textLength="432.5" lengthAdjust="spacing" xml:space="preserve">Remove paper liner from adhesive on base (B) and affix</text>
<text x="716.5" y="418.6" font-size="17.2" textLength="446" lengthAdjust="spacing" xml:space="preserve">adhesive to the dash. Let stand (at room temperature) for</text>
<text x="716.5" y="441.4" font-size="17.2" textLength="174.5" lengthAdjust="spacing" xml:space="preserve">24 hours before using.</text>
<text x="640" y="484.8" font-size="17.2" textLength="52" lengthAdjust="spacing" xml:space="preserve">Step 4.</text>
<text x="716.5" y="484.8" font-size="17.2" textLength="437.5" lengthAdjust="spacing" xml:space="preserve">Push the pedestal suction cup firmly to the disc. Flip the</text>
<text x="716.5" y="507.8" font-size="17.2" textLength="293.5" lengthAdjust="spacing" xml:space="preserve">lever down to secure the suction cup.</text>
<text x="640" y="932.8" font-size="17.2" textLength="52" lengthAdjust="spacing" xml:space="preserve">Step 5.</text>
<text x="716.5" y="932.8" font-size="17.2" textLength="393.5" lengthAdjust="spacing" xml:space="preserve">Follow Steps 2 and 3 of the Windshield Installation</text>
<text x="716.5" y="955.8" font-size="17.2" textLength="97.5" lengthAdjust="spacing" xml:space="preserve">Instructions.</text>
</g>
</svg>
</body>
</html>
